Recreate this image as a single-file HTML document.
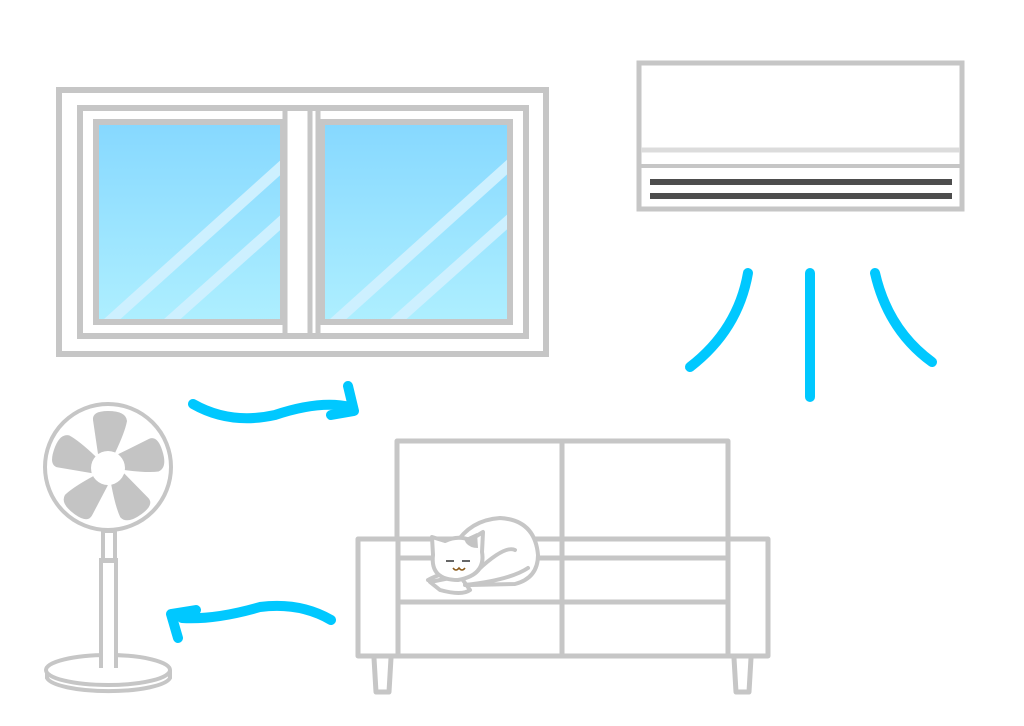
<!DOCTYPE html>
<html><head><meta charset="utf-8"><style>html,body{margin:0;padding:0;background:#fff}svg{display:block}</style></head>
<body>
<svg width="1024" height="726" viewBox="0 0 1024 726" xmlns="http://www.w3.org/2000/svg">
<defs>
<linearGradient id="g" x1="0" y1="0" x2="0" y2="1"><stop offset="0" stop-color="#86d8ff"/><stop offset="1" stop-color="#aeefff"/></linearGradient>
<clipPath id="c1"><rect x="99" y="125" width="181" height="194"/></clipPath>
<clipPath id="c2"><rect x="325" y="125" width="182" height="194"/></clipPath>
</defs>
<g fill="none" stroke="#c6c6c6" stroke-width="6">
<rect x="59" y="90" width="487" height="264"/>
<rect x="80" y="108" width="446" height="228"/>
</g>
<rect x="96" y="122" width="187" height="200" fill="url(#g)" stroke="#c6c6c6" stroke-width="6"/>
<rect x="322" y="122" width="188" height="200" fill="url(#g)" stroke="#c6c6c6" stroke-width="6"/>
<g stroke="#cdf0ff" stroke-width="11" clip-path="url(#c1)"><line x1="100" y1="330" x2="300" y2="150"/><line x1="160" y1="330" x2="300" y2="205"/></g>
<g stroke="#cdf0ff" stroke-width="11" clip-path="url(#c2)"><line x1="326" y1="330" x2="526" y2="150"/><line x1="386" y1="330" x2="526" y2="205"/></g>
<g stroke="#c6c6c6" stroke-width="5"><line x1="285" y1="108" x2="285" y2="336"/><line x1="310" y1="108" x2="310" y2="336"/><line x1="318" y1="108" x2="318" y2="336"/></g>

<rect x="639" y="63" width="323" height="146" fill="#fff" stroke="#c6c6c6" stroke-width="5"/>
<line x1="641" y1="150" x2="960" y2="150" stroke="#dcdcdc" stroke-width="5"/>
<line x1="641" y1="166" x2="960" y2="166" stroke="#c6c6c6" stroke-width="4"/>
<rect x="650" y="179" width="302" height="6" fill="#4d4d4d"/>
<rect x="650" y="193" width="302" height="6" fill="#4d4d4d"/>

<g fill="none" stroke="#00c8ff" stroke-width="10" stroke-linecap="round">
<path d="M690 367 Q738 330 748 273"/>
<line x1="810" y1="273" x2="810" y2="397"/>
<path d="M875 273 Q888 330 932 362"/>
<path d="M193 404 Q230 425 275 415 Q320 400 350 407"/>
<path d="M331 415 L354 411 L348 386" stroke-linejoin="round"/>
<path d="M331 620 Q300 602 260 607 Q215 620 182 618"/>
<path d="M196 610 L171 614 L178 638" stroke-linejoin="round"/>
</g>

<g fill="none" stroke="#c6c6c6" stroke-width="4">
<circle cx="108" cy="467" r="63"/>
<rect x="103" y="531" width="12" height="30"/>
<rect x="101" y="560" width="15" height="108"/>
<path d="M47 670 v8 A62 15 0 0 0 170 678 v-8"/>
<ellipse cx="108" cy="670" rx="62" ry="15" fill="#fff"/>
</g>
<rect x="102" y="648" width="13" height="18" fill="#fff"/>
<line x1="101" y1="640" x2="101" y2="668" stroke="#c6c6c6" stroke-width="4"/>
<line x1="116" y1="640" x2="116" y2="668" stroke="#c6c6c6" stroke-width="4"/>
<g fill="#c4c4c4" transform="translate(108,468)">
<g id="b"><path d="M-10 -14 L-15 -48 Q-16 -57 0 -57 Q18 -57 19 -47 Q17 -36 7 -15 Z"/></g>
<use href="#b" transform="rotate(72)"/><use href="#b" transform="rotate(144)"/><use href="#b" transform="rotate(216)"/><use href="#b" transform="rotate(288)"/>
<circle r="17" fill="#fff"/>
</g>

<g fill="none" stroke="#c6c6c6" stroke-width="5" stroke-linejoin="round">
<rect x="397" y="441" width="331" height="98" fill="#fff"/>
<rect x="358" y="539" width="40" height="117" fill="#fff"/>
<rect x="728" y="539" width="40" height="117" fill="#fff"/>
<rect x="398" y="558" width="330" height="98" fill="#fff"/>
<line x1="398" y1="602" x2="728" y2="602"/>
<line x1="562" y1="441" x2="562" y2="656"/>
<path d="M374 658 L376 692 L389 692 L391 658"/>
<path d="M734 658 L736 692 L749 692 L751 658"/>
</g>
<g stroke="#c6c6c6" stroke-width="4" fill="#fff" stroke-linejoin="round" stroke-linecap="round">
<path d="M455 545 Q470 520 500 518 Q535 520 538 555 Q538 578 515 584 L470 585 Q440 582 440 570 Z"/>
<path d="M428 580 Q450 568 470 574" fill="none"/>
<path d="M430 582 L460 576 L470 590 Q462 596 440 590 Z"/>
<path d="M465 585 Q510 580 528 568" fill="none"/>
<path d="M478 570 Q505 545 515 550" fill="none"/>
<path d="M433 555 L432 537 L445 541 Q458 535 470 540 L483 532 L482 552 Q486 575 458 580 Q430 580 433 555 Z"/>
</g>
<path d="M464 539 L477 533 L478 548 Q470 548 466 543 Z" fill="#c4c4c4"/>
<g stroke="#333" stroke-width="1.5" fill="none"><line x1="446" y1="561" x2="454" y2="561"/><line x1="462" y1="561" x2="470" y2="561"/></g>
<path d="M453 568 Q456 572 459 568 Q462 572 465 568" stroke="#8a5a1a" stroke-width="1.5" fill="none"/>
</svg>
</body></html>
